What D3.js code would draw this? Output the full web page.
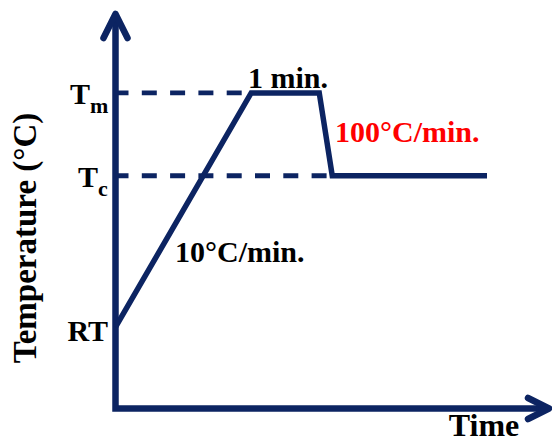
<!DOCTYPE html>
<html>
<head>
<meta charset="utf-8">
<script src="https://cdn.jsdelivr.net/npm/d3@7/dist/d3.min.js"></script>
<style>
  html, body { margin: 0; padding: 0; background: #fff; }
  svg { display: block; }
  text { font-family: "Liberation Serif", "Times New Roman", serif; font-weight: bold; }
</style>
</head>
<body>
<svg id="chart" width="552" height="443"></svg>
<script>
// schematic thermal profile (arbitrary units, 0..100 on both axes)
var levelNames = ["RT", "T", "T"];
var levelSubs = ["", "c", "m"];
var levelValues = [20.6, 59, 80];

var profileTime = [0, 31.3, 47, 50, 85.7];
var profileTemp = [20.6, 80, 80, 59, 59];

// dashed guides run from the axis to where the profile meets the level
var guideLevels = [80, 59];
var guideEnds = [31.3, 50];

var annoTexts = ["1 min.", "100\u00b0C/min.", "10\u00b0C/min."];

var navy = "#0c2462";

var svg = d3.select("#chart");

var x = d3.scaleLinear().domain([0, 100]).range([115.5, 549]);
var y = d3.scaleLinear().domain([0, 100]).range([408.5, 14]);

// axes (arrow lines, no ticks)
svg.append("path")
    .attr("d", "M" + x(0) + "," + y(100) + "L" + x(0) + "," + y(0) + "L" + x(100) + "," + y(0))
    .attr("fill", "none")
    .attr("stroke", navy)
    .attr("stroke-width", 6.5)
    .attr("stroke-linejoin", "miter");

// arrow heads
svg.append("path")
    .attr("d", "M" + (x(0) - 12) + "," + (y(100) + 24) + "L" + x(0) + "," + y(100) + "L" + (x(0) + 12) + "," + (y(100) + 24))
    .attr("fill", "none")
    .attr("stroke", navy)
    .attr("stroke-width", 6.5)
    .attr("stroke-linecap", "round")
    .attr("stroke-linejoin", "round");

svg.append("path")
    .attr("d", "M" + (x(100) - 21) + "," + (y(0) - 10.5) + "L" + x(100) + "," + y(0) + "L" + (x(100) - 21) + "," + (y(0) + 10.5))
    .attr("fill", "none")
    .attr("stroke", navy)
    .attr("stroke-width", 6.5)
    .attr("stroke-linecap", "round")
    .attr("stroke-linejoin", "round");

// dashed guides
svg.selectAll(".guide")
    .data(guideLevels)
    .enter().append("line")
    .attr("class", "guide")
    .attr("x1", x(0) - 2)
    .attr("x2", (d, i) => x(guideEnds[i]) - 3)
    .attr("y1", (d) => y(d))
    .attr("y2", (d) => y(d))
    .attr("stroke", navy)
    .attr("stroke-width", 4.8)
    .attr("stroke-dasharray", "15,13.3");

// profile line
var line = d3.line()
    .x((d, i) => x(profileTime[i]))
    .y((d) => y(d));

svg.append("path")
    .datum(profileTemp)
    .attr("d", line)
    .attr("fill", "none")
    .attr("stroke", navy)
    .attr("stroke-width", 5.5)
    .attr("stroke-linejoin", "miter");

// level labels on the y axis
var lbl = svg.selectAll(".level")
    .data(levelValues)
    .enter().append("text")
    .attr("class", "level")
    .attr("x", (d, i) => [108, 78, 70][i])
    .attr("y", (d, i) => y(d) + (i == 0 ? 14 : 11))
    .attr("text-anchor", (d, i) => i == 0 ? "end" : "start")
    .attr("font-size", 30)
    .attr("fill", "#000");

lbl.append("tspan")
    .text((d, i) => levelNames[i]);

lbl.filter((d, i) => levelSubs[i] != "")
    .append("tspan")
    .attr("font-size", 22)
    .attr("dy", 9)
    .text((d) => levelSubs[levelValues.indexOf(d)]);

// annotations
svg.append("text")
    .attr("x", 288).attr("y", 88)
    .attr("text-anchor", "middle")
    .attr("font-size", 30)
    .attr("fill", "#000")
    .text(annoTexts[0]);

svg.append("text")
    .attr("x", 335).attr("y", 142)
    .attr("font-size", 30)
    .attr("fill", "#ff0000")
    .text(annoTexts[1]);

svg.append("text")
    .attr("x", 175).attr("y", 262)
    .attr("font-size", 30)
    .attr("fill", "#000")
    .text(annoTexts[2]);

// axis titles
svg.append("text")
    .attr("x", 484).attr("y", 436)
    .attr("text-anchor", "middle")
    .attr("font-size", 32)
    .attr("fill", "#000")
    .text("Time");

svg.append("text")
    .attr("transform", "translate(36,238) rotate(-90)")
    .attr("text-anchor", "middle")
    .attr("font-size", 33)
    .attr("fill", "#000")
    .text("Temperature (\u00b0C)");
</script>
</body>
</html>
